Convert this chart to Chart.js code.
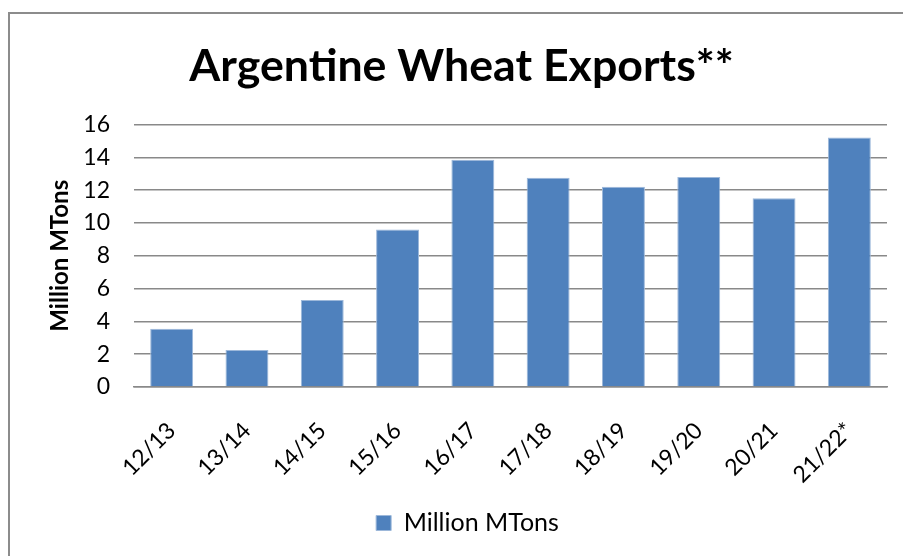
<!DOCTYPE html>
<html>
<head>
<meta charset="utf-8">
<script src="https://cdn.jsdelivr.net/npm/chart.js@4.4.1/dist/chart.umd.min.js"></script>
<style>
  html, body { margin: 0; padding: 0; background: #fff; overflow: hidden; }
  canvas { display: block; }
</style>
</head>
<body>
<canvas id="chart" width="903" height="556"></canvas>
<script>
const seasons = ['12/13', '13/14', '14/15', '15/16', '16/17', '17/18', '18/19', '19/20', '20/21', '21/22*'];
const exports = [3.55, 2.25, 5.3, 9.6, 13.85, 12.75, 12.2, 12.8, 11.5, 15.2];
const yTicks = [0, 2, 4, 6, 8, 10, 12, 14, 16];

const gridGray = '#898989';
const barBlue = '#4F81BD';

// outer frame like the spreadsheet chart box; title and legend nudged right
const frame = {
    id: 'frame',
    afterLayout: (chart) => {
        chart.legend.left += 36;
        chart.titleBlock.left += 24;
    },
    beforeDraw: (chart) => {
        const c = chart.ctx;
        c.save();
        c.fillStyle = '#fff';
        c.fillRect(0, 0, chart.width, chart.height);
        c.strokeStyle = '#8c8c8c';
        c.lineWidth = 2;
        c.strokeRect(9, 13, chart.width + 20, chart.height + 20);
        c.restore();
    }
};

window.onload = () => {
    const ctx = document.getElementById('chart').getContext('2d');
    new Chart(ctx, {
        type: 'bar',
        data: {
            labels: seasons,
            datasets: [{
                label: 'Million MTons',
                data: exports,
                backgroundColor: barBlue,
                borderColor: '#9DB8DA',
                borderWidth: 1,
                barPercentage: 0.57,
                categoryPercentage: 1
            }]
        },
        options: {
            responsive: false,
            animation: false,
            layout: { padding: { left: 12, right: 16, top: 12, bottom: 10.5 } },
            scales: {
                y: {
                    min: 0,
                    max: 16,
                    afterFit: (s) => { s.width = 122; },
                    afterBuildTicks: (s) => { s.ticks = yTicks.map(v => ({ value: v })); },
                    grid: { color: gridGray, lineWidth: 1.5, drawTicks: false },
                    border: { display: false },
                    ticks: { padding: 24, color: '#000', font: { family: 'Lato', size: 23 } },
                    title: {
                        display: true,
                        text: 'Million MTons',
                        color: '#000',
                        font: { family: 'Lato', size: 24, weight: 'bold' },
                        padding: { top: 33.6, bottom: 0 }
                    }
                },
                x: {
                    afterFit: (s) => { s.height = 113.5; },
                    grid: { display: false },
                    border: { display: true, color: gridGray, width: 1.5 },
                    ticks: {
                        color: '#000',
                        maxRotation: 45,
                        minRotation: 45,
                        padding: 22,
                        font: { family: 'Lato', size: 23 }
                    }
                }
            },
            plugins: {
                title: {
                    display: true,
                    text: 'Argentine Wheat Exports**',
                    color: '#000',
                    font: { family: 'Lato', size: 44.7, weight: 'bold' },
                    padding: { top: 28.2, bottom: 30.6 }
                },
                legend: {
                    position: 'bottom',
                    labels: {
                        color: '#000',
                        boxWidth: 15,
                        boxHeight: 15,
                        padding: 10,
                        font: { family: 'Lato', size: 25 }
                    }
                },
                tooltip: { enabled: false }
            }
        },
        plugins: [frame]
    });
};
</script>
</body>
</html>
